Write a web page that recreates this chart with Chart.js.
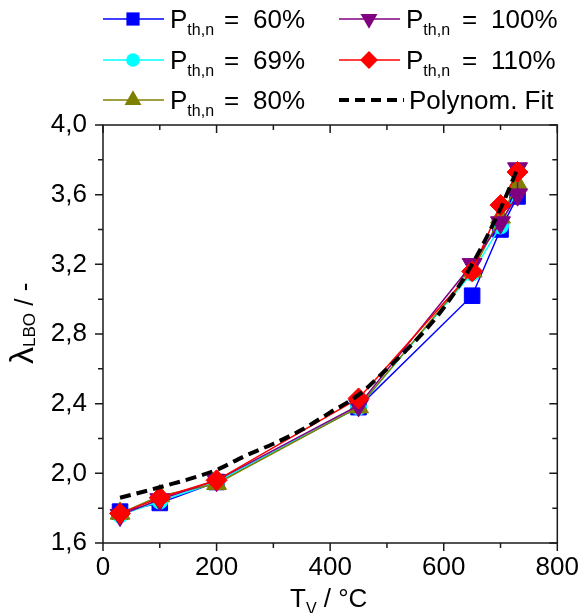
<!DOCTYPE html>
<html>
<head>
<meta charset="utf-8">
<script src="https://cdn.jsdelivr.net/npm/chart.js@4.4.1/dist/chart.umd.min.js"></script>
<style>
  html, body { margin: 0; padding: 0; background: #fff; }
  canvas { display: block; }
</style>
</head>
<body>
<canvas id="lbo" width="580" height="613"></canvas>
<script>
const FONT = '"Liberation Sans", Arial, sans-serif';

// preheat temperature T_V in °C
const tempV = [30, 100, 200, 450, 650, 700, 730];

// lean blow-off air ratio for each thermal load
const lbo60 = [1.78, 1.83, 1.95, 2.38, 3.02, 3.40, 3.59];
const lbo69 = [1.76, 1.84, 1.95, 2.38, 3.15, 3.42, 3.63];
const lbo80 = [1.77, 1.87, 1.94, 2.38, 3.16, 3.47, 3.66];
const lbo110 = [1.77, 1.86, 1.96, 2.43, 3.16, 3.54, 3.73];

// 100 % has a repeat point at 730 °C
const tempV100 = [30, 100, 200, 450, 650, 700, 730, 730];
const lbo100 = [1.76, 1.85, 1.96, 2.39, 3.20, 3.44, 3.60, 3.75];

// polynomial fit through all loads
const fitT = [30, 100, 200, 250, 300, 350, 400, 450, 500, 550, 600, 650, 700, 730];
const fitLambda = [1.86, 1.92, 2.02, 2.10, 2.17, 2.25, 2.35, 2.45, 2.60, 2.76, 2.95, 3.20, 3.52, 3.75];

const xTicks = [0, 200, 400, 600, 800];
const xMinor = [100, 300, 500, 700];
const yTicks = [1.6, 2.0, 2.4, 2.8, 3.2, 3.6, 4.0];
const yMinor = [1.8, 2.2, 2.6, 3.0, 3.4, 3.8];

const toXY = (xs, ys) => xs.map((x, i) => ({ x: x, y: ys[i] }));

const series = [
  { load: '60%',  x: tempV,    y: lbo60,  color: '#0000ff', style: 'rect',     r: 11,   rot: 0,   order: 5 },
  { load: '69%',  x: tempV,    y: lbo69,  color: '#00ffff', style: 'circle',   r: 8,    rot: 0,   order: 4 },
  { load: '80%',  x: tempV,    y: lbo80,  color: '#808000', style: 'triangle', r: 11.5, rot: 0,   order: 3 },
  { load: '100%', x: tempV100, y: lbo100, color: '#800080', style: 'triangle', r: 11.5, rot: 180, order: 2 },
  { load: '110%', x: tempV,    y: lbo110, color: '#ff0000', style: 'rectRot',  r: 10.5, rot: 0,   order: 1 }
];

const datasets = series.map(s => ({
  label: 'P th,n = ' + s.load,
  data: toXY(s.x, s.y),
  borderColor: s.color,
  backgroundColor: s.color,
  borderWidth: 1.5,
  pointStyle: s.style,
  pointRotation: s.rot,
  pointRadius: s.r,
  pointBackgroundColor: s.color,
  pointBorderColor: s.color,
  pointBorderWidth: 1,
  tension: 0,
  order: s.order
}));

datasets.push({
  label: 'Polynom. Fit',
  data: toXY(fitT, fitLambda),
  borderColor: '#000',
  borderWidth: 4,
  borderDash: [11, 6],
  pointRadius: 0,
  cubicInterpolationMode: 'monotone',
  order: 0
});

// marker shapes for the hand-drawn legend
function marker(ctx, style, x, y, r, rot, color) {
  ctx.fillStyle = color;
  ctx.beginPath();
  if (style === 'rect') {
    const s = r * Math.SQRT1_2;
    ctx.rect(x - s, y - s, 2 * s, 2 * s);
  } else if (style === 'circle') {
    ctx.arc(x, y, r, 0, Math.PI * 2);
  } else if (style === 'rectRot') {
    ctx.moveTo(x - r, y); ctx.lineTo(x, y - r); ctx.lineTo(x + r, y); ctx.lineTo(x, y + r);
  } else {
    const d = rot ? -1 : 1;
    ctx.moveTo(x, y - d * r);
    ctx.lineTo(x + r * 0.866, y + d * r * 0.5);
    ctx.lineTo(x - r * 0.866, y + d * r * 0.5);
  }
  ctx.closePath();
  ctx.fill();
}

// text with subscripts: parts = [{t, sub, size}]
function richText(ctx, x, y, parts, subShift) {
  for (const p of parts) {
    const size = p.size || (p.sub ? 16 : 26);
    ctx.font = size + 'px ' + FONT;
    ctx.fillText(p.t, x, y + (p.sub ? subShift : 0));
    x += ctx.measureText(p.t).width;
  }
  return x;
}

const legendCols = [{ x0: 103, eqX: 224, valX: 253 }, { x0: 339, eqX: 462, valX: 491 }];
const legendRows = [19, 60, 100];

const decorPlugin = {
  id: 'decor',
  afterDraw(chart) {
    const { ctx, chartArea: a, scales: { x, y } } = chart;
    ctx.save();

    // frame with ticks: outward on left/bottom, inward on top/right
    ctx.strokeStyle = '#1a1a1a';
    ctx.lineWidth = 1.5;
    ctx.strokeRect(a.left, a.top, a.right - a.left, a.bottom - a.top);
    ctx.beginPath();
    const tx = (v, len) => {
      const px = x.getPixelForValue(v);
      ctx.moveTo(px, a.bottom); ctx.lineTo(px, a.bottom + len);
      ctx.moveTo(px, a.top); ctx.lineTo(px, a.top + len);
    };
    const ty = (v, len) => {
      const py = y.getPixelForValue(v);
      ctx.moveTo(a.left, py); ctx.lineTo(a.left - len, py);
      ctx.moveTo(a.right, py); ctx.lineTo(a.right - len, py);
    };
    xTicks.forEach(v => tx(v, 8));
    xMinor.forEach(v => tx(v, 5));
    yTicks.forEach(v => ty(v, 8));
    yMinor.forEach(v => ty(v, 5));
    ctx.stroke();

    // legend, two columns
    ctx.fillStyle = '#000';
    ctx.textBaseline = 'alphabetic';
    ctx.textAlign = 'left';
    series.forEach((s, i) => {
      const col = legendCols[i < 3 ? 0 : 1];
      const ry = legendRows[i < 3 ? i : i - 3];
      ctx.strokeStyle = s.color;
      ctx.lineWidth = 1.5;
      ctx.beginPath();
      ctx.moveTo(col.x0, ry); ctx.lineTo(col.x0 + 61, ry);
      ctx.stroke();
      marker(ctx, s.style, col.x0 + 30, ry, s.r * 0.85, s.rot, s.color);
      ctx.fillStyle = '#000';
      richText(ctx, col.x0 + 67, ry + 9, [{ t: 'P' }, { t: 'th,n', sub: true }], 7);
      ctx.font = '26px ' + FONT;
      ctx.fillText('=', col.eqX, ry + 9);
      ctx.fillText(s.load, col.valX, ry + 9);
    });
    ctx.strokeStyle = '#000';
    ctx.lineWidth = 4;
    ctx.setLineDash([10, 6]);
    ctx.beginPath();
    ctx.moveTo(339, legendRows[2]); ctx.lineTo(404, legendRows[2]);
    ctx.stroke();
    ctx.setLineDash([]);
    ctx.font = '26px ' + FONT;
    ctx.fillText('Polynom. Fit', 409, legendRows[2] + 9);

    // axis titles
    richText(ctx, 290, 607, [{ t: 'T' }, { t: 'V', sub: true }, { t: ' / °C' }], 7);
    ctx.translate(33, 364);
    ctx.rotate(-Math.PI / 2);
    richText(ctx, 0, 0, [{ t: 'λ', size: 34 }, { t: 'LBO', sub: true, size: 17 }, { t: ' / -' }], 2);
    ctx.restore();
  }
};

new Chart(document.getElementById('lbo'), {
  type: 'line',
  data: { datasets: datasets },
  options: {
    responsive: false,
    animation: false,
    devicePixelRatio: 1,
    layout: { padding: { top: 125, right: 15, left: 0, bottom: 0 } },
    plugins: { legend: { display: false }, tooltip: { enabled: false } },
    scales: {
      x: {
        type: 'linear',
        min: 0,
        max: 800,
        grid: { display: false },
        border: { display: false },
        afterBuildTicks: s => { s.ticks = xTicks.map(v => ({ value: v })); },
        afterFit: s => { s.height = 70; },
        ticks: { font: { family: FONT, size: 26 }, color: '#000', padding: 1, maxRotation: 0, autoSkip: false }
      },
      y: {
        type: 'linear',
        min: 1.6,
        max: 4.0,
        grid: { display: false },
        border: { display: false },
        afterBuildTicks: s => { s.ticks = yTicks.map(v => ({ value: v })); },
        afterFit: s => { s.width = 103; },
        ticks: {
          font: { family: FONT, size: 26 },
          color: '#000',
          padding: 8,
          autoSkip: false,
          callback: v => v.toFixed(1).replace('.', ',')
        }
      }
    }
  },
  plugins: [decorPlugin]
});
</script>
</body>
</html>
